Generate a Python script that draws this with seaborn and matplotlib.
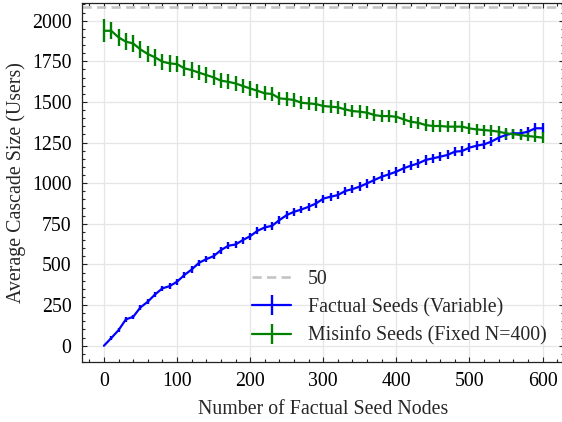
import numpy as np
import pandas as pd
import matplotlib
matplotlib.use("Agg")
import matplotlib.pyplot as plt
from matplotlib.ticker import MultipleLocator
import seaborn as sns

# ---- data ----
seed_nodes = list(range(0, 601, 10))
factual_mean = [0, 47, 96, 162, 178, 236, 271, 316, 353, 367,
                394, 435, 469, 510, 533, 551, 588, 615, 623, 650,
                674, 707, 728, 738, 773, 804, 824, 838, 855, 875,
                905, 917, 927, 952, 964, 979, 999, 1020, 1040, 1055,
                1071, 1092, 1108, 1122, 1143, 1153, 1163, 1174, 1194, 1198,
                1219, 1231, 1239, 1256, 1280, 1297, 1307, 1307, 1317, 1338,
                1338]
factual_err = [0, 10, 12, 14, 14, 16, 16, 17, 17, 18,
               18, 19, 19, 20, 20, 20, 21, 21, 21, 22,
               22, 22, 23, 23, 23, 24, 24, 24, 24, 25,
               25, 25, 25, 26, 26, 26, 26, 26, 27, 27,
               27, 27, 27, 27, 28, 28, 28, 28, 28, 28,
               28, 29, 29, 29, 29, 29, 29, 29, 30, 30,
               30]
misinfo_mean = [1938, 1938, 1897, 1871, 1860, 1823, 1795, 1774, 1748, 1737,
                1733, 1707, 1696, 1680, 1666, 1651, 1631, 1624, 1614, 1598,
                1583, 1569, 1553, 1549, 1522, 1518, 1512, 1495, 1491, 1487,
                1475, 1471, 1467, 1454, 1444, 1440, 1434, 1419, 1413, 1413,
                1409, 1393, 1378, 1372, 1358, 1352, 1352, 1348, 1348, 1348,
                1337, 1331, 1327, 1323, 1317, 1307, 1302, 1296, 1290, 1286,
                1280]
misinfo_err = [70, 52, 54, 54, 52, 52, 51, 51, 50, 50,
               49, 49, 48, 48, 47, 47, 46, 46, 45, 45,
               44, 44, 43, 43, 42, 42, 42, 41, 41, 41,
               40, 40, 40, 39, 39, 39, 38, 38, 38, 37,
               37, 36, 36, 36, 36, 35, 35, 35, 35, 35,
               34, 34, 34, 34, 34, 33, 33, 33, 33, 33,
               33]
reference_level = 2082
reference_label = "50"
factual_label = "Factual Seeds (Variable)"
misinfo_label = "Misinfo Seeds (Fixed N=400)"

df = pd.DataFrame({"seeds": seed_nodes,
                   "factual": factual_mean, "factual_err": factual_err,
                   "misinfo": misinfo_mean, "misinfo_err": misinfo_err})

# ---- style ----
sns.set_theme(style="ticks")
plt.rcParams["font.family"] = ["Liberation Serif", "DejaVu Serif"]
plt.rcParams["mathtext.fontset"] = "stix"

fig = plt.figure(figsize=(5.62, 4.22), dpi=100)
ax = fig.add_axes([0.1459, 0.1422, 0.8585, 0.850])

ax.axhline(reference_level, ls=(0, (3.5, 2)), color="#c4c4c4", lw=1.9,
           label=reference_label)
ax.errorbar(df["seeds"], df["factual"], yerr=df["factual_err"], color="#0000ff",
            lw=1.6, elinewidth=1.7, capsize=0, label=factual_label)
ax.errorbar(df["seeds"], df["misinfo"], yerr=df["misinfo_err"], color="#008000",
            lw=1.6, elinewidth=1.7, capsize=0, label=misinfo_label)

ax.set_xlim(-30, 630)
ax.set_ylim(-100, 2107)
ax.xaxis.set_major_locator(MultipleLocator(100))
ax.xaxis.set_minor_locator(MultipleLocator(20))
ax.yaxis.set_major_locator(MultipleLocator(250))
ax.yaxis.set_minor_locator(MultipleLocator(50))

ax.grid(True, which="major", color="#e6e6e6", lw=0.9)
ax.set_axisbelow(True)
ax.tick_params(which="both", direction="in", top=True, right=True,
               colors="#222222", labelcolor="black", labelsize=14.3, width=0.8)
ax.tick_params(which="major", length=3.5, pad=7.5)
ax.tick_params(which="minor", length=2)
for s in ax.spines.values():
    s.set_color("#222222")
    s.set_linewidth(0.9)

ax.set_xlabel("Number of Factual Seed Nodes", fontsize=14.3, labelpad=6.5)
ax.set_ylabel("Average Cascade Size (Users)", fontsize=14.3, labelpad=4)

ax.legend(loc="lower right", bbox_to_anchor=(1.0, -0.005), frameon=False,
          fontsize=14.3, handlelength=1.95, handletextpad=0.85, labelspacing=0.47)

fig.savefig("out.png", dpi=100)
